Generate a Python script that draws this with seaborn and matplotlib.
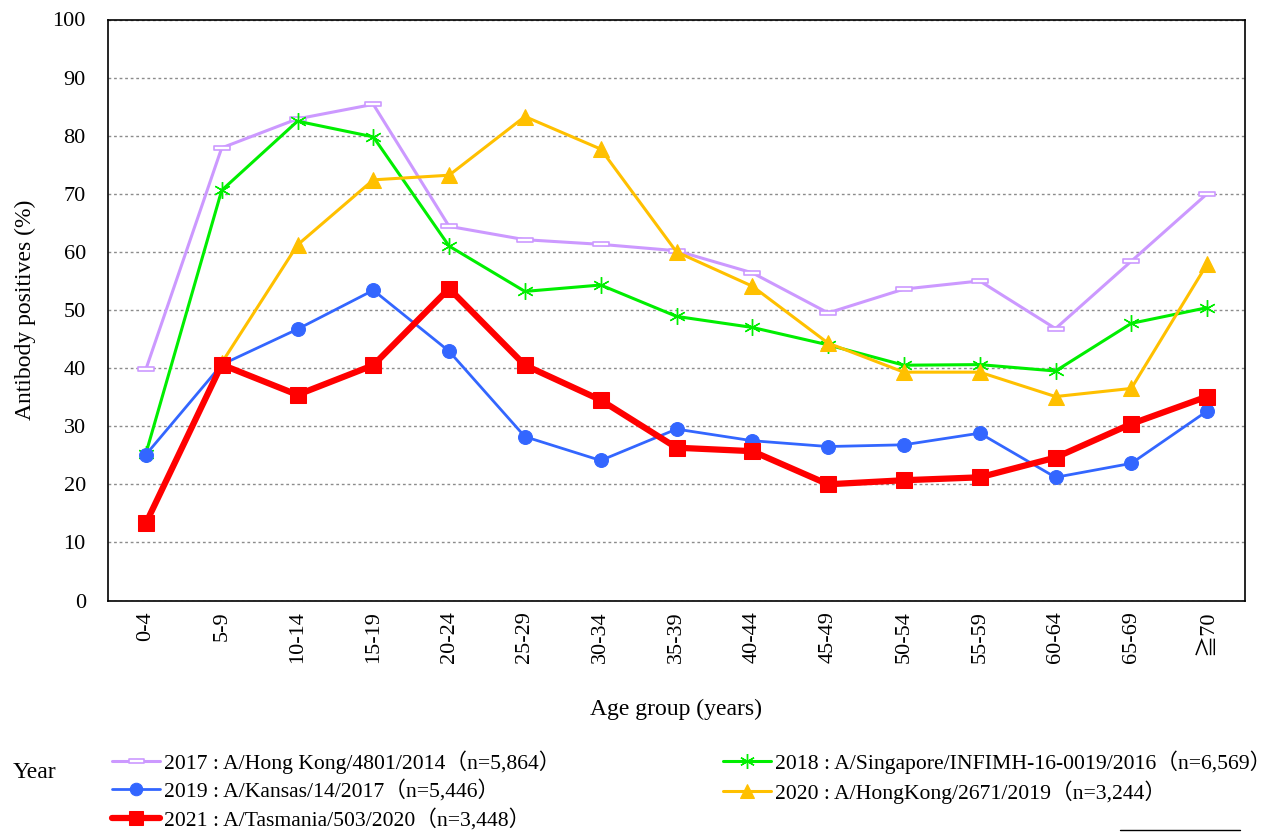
"""Antibody positives by age group — A(H3N2) vaccine strains, 2017-2021."""
import matplotlib
matplotlib.use("Agg")
import matplotlib.pyplot as plt
import numpy as np
import seaborn as sns
from matplotlib.lines import Line2D
from matplotlib.path import Path

# ── Data ─────────────────────────────────────────────────────────────
AGE_GROUPS = ["0-4", "5-9", "10-14", "15-19", "20-24", "25-29", "30-34", "35-39",
              "40-44", "45-49", "50-54", "55-59", "60-64", "65-69", "≧70"]

Y2017 = [39.8, 77.9, 82.9, 85.4, 64.4, 62.1, 61.3, 60.2, 56.4, 49.5, 53.6, 55.0, 46.8, 58.4, 70.0]
Y2018 = [25.3, 70.6, 82.5, 79.8, 61.0, 53.2, 54.3, 48.9, 47.0, 44.0, 40.5, 40.6, 39.5, 47.7, 50.4]
Y2019 = [25.1, 40.6, 46.7, 53.4, 42.9, 28.2, 24.1, 29.5, 27.5, 26.5, 26.8, 28.8, 21.2, 23.6, 32.6]
Y2020 = [np.nan, 40.9, 61.2, 72.4, 73.2, 83.3, 77.7, 60.0, 54.1, 44.3, 39.3, 39.3, 35.1, 36.5, 57.9]
Y2021 = [13.3, 40.6, 35.4, 40.5, 53.7, 40.5, 34.5, 26.3, 25.7, 20.0, 20.7, 21.2, 24.6, 30.4, 35.1]

LABELS = [
    "2017 : A/Hong Kong/4801/2014（n=5,864）",
    "2018 : A/Singapore/INFIMH-16-0019/2016（n=6,569）",
    "2019 : A/Kansas/14/2017（n=5,446）",
    "2020 : A/HongKong/2671/2019（n=3,244）",
    "2021 : A/Tasmania/503/2020（n=3,448）",
]

# ── Style ────────────────────────────────────────────────────────────
LILAC = "#CC99FF"
GREEN = "#00EE00"
BLUE = "#3366FF"
GOLD = "#FFC000"
RED = "#FF0000"

FONTS = ["Liberation Serif", "Noto Sans CJK JP", "DejaVu Sans"]

sns.set_theme(style="white")
plt.rcParams.update({
    "font.family": FONTS,
    "font.size": 16,
    "axes.edgecolor": "black",
    "axes.linewidth": 1.2,
    "text.color": "black",
    "axes.labelcolor": "black",
    "xtick.color": "black",
    "ytick.color": "black",
})

# flat open rectangle used by the 2017 series
FLAT_RECT = Path([(-1, -0.28), (1, -0.28), (1, 0.28), (-1, 0.28), (-1, -0.28)],
                 [Path.MOVETO, Path.LINETO, Path.LINETO, Path.LINETO, Path.CLOSEPOLY])

SERIES = [
    (Y2017, LILAC, dict(marker=FLAT_RECT, markersize=12, markerfacecolor="white",
                        markeredgecolor=LILAC, markeredgewidth=1.2, linewidth=2.2)),
    (Y2018, GREEN, dict(marker=(6, 2, 0), markersize=12, markeredgecolor=GREEN,
                        markeredgewidth=1.0, linewidth=2.2)),
    (Y2019, BLUE, dict(marker="o", markersize=10, markeredgecolor=BLUE, linewidth=2.0)),
    (Y2020, GOLD, dict(marker="^", markersize=11, markeredgecolor=GOLD, linewidth=2.2)),
    (Y2021, RED, dict(marker="s", markersize=11, markeredgecolor=RED, linewidth=4.5)),
]

fig = plt.figure(figsize=(12.8, 8.32), dpi=100)
ax = fig.add_axes([108 / 1280, 1 - 600.5 / 832, (1245 - 108) / 1280, (600.5 - 19.5) / 832])

x = np.arange(len(AGE_GROUPS))
handles = []
for (vals, color, kw), label in zip(SERIES, LABELS):
    sns.lineplot(x=x, y=vals, color=color, ax=ax, label=label, legend=False,
                 markerfacecolor=kw.pop("markerfacecolor", color), **kw)
    handles.append(ax.lines[-1])

ax.set_xlim(-0.5, len(AGE_GROUPS) - 0.5)
ax.set_ylim(0, 100)
ax.set_yticks(np.arange(0, 101, 10))
ax.set_xticks(x)
ax.set_xticklabels(AGE_GROUPS, rotation=90)
ax.tick_params(axis="both", length=0, labelsize=16)
ax.tick_params(axis="x", pad=7.5)
ax.tick_params(axis="y", pad=16)

for spine in ax.spines.values():
    spine.set_visible(True)
    spine.set_color("black")

ax.yaxis.grid(True, linestyle=(0, (2, 2)), color="#8C8C8C", linewidth=1.0)
ax.xaxis.grid(False)
ax.set_axisbelow(True)

ax.set_xlabel("Age group (years)", fontsize=17, labelpad=26)
ax.set_ylabel("Antibody positives (%)", fontsize=17, labelpad=12)

# legend below the plot, rows: 2017|2018, 2019|2020, 2021
order = [0, 2, 4, 1, 3]
fig.legend([handles[i] for i in order], [LABELS[i] for i in order],
           loc="upper left", bbox_to_anchor=(112 / 1280, 1 - 750 / 832),
           ncol=2, frameon=False, fontsize=15.6, handlelength=2.2,
           handletextpad=0.2, columnspacing=7.5, labelspacing=0.3,
           markerscale=0.9, borderpad=0, borderaxespad=0)
fig.text(13 / 1280, 1 - 772 / 832, "Year", fontsize=17, va="center", ha="left")

fig.add_artist(Line2D([1120 / 1280, 1240 / 1280], [1 - 830 / 832, 1 - 830 / 832],
                      color="black", linewidth=1.0))

fig.savefig("out.png", dpi=100)
